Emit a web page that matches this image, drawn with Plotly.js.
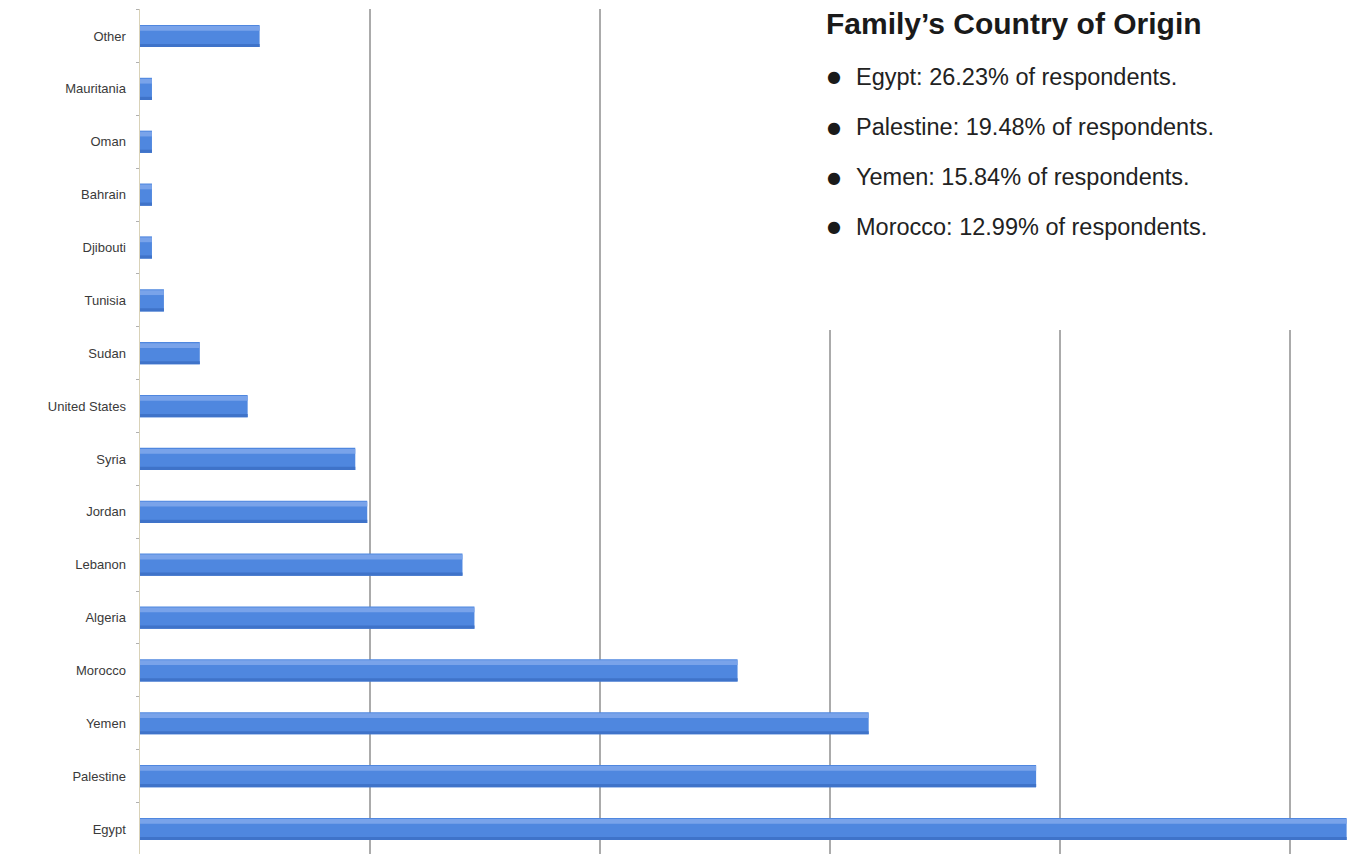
<!DOCTYPE html>
<html>
<head>
<meta charset="utf-8">
<script src="https://cdn.plot.ly/plotly-3.0.1.min.js"></script>
<style>html,body{margin:0;padding:0;background:#fff;}#chart{width:1354px;height:854px;}</style>
</head>
<body>
<div id="chart"></div>
<script>
// Categories listed bottom to top
const countries = ["Egypt","Palestine","Yemen","Morocco","Algeria","Lebanon","Jordan","Syria","United States","Sudan","Tunisia","Djibouti","Bahrain","Oman","Mauritania","Other"];
const percents = [26.23,19.48,15.84,12.99,7.27,7.01,4.94,4.68,2.34,1.30,0.52,0.26,0.26,0.26,0.26,2.60];

const boxTitle = "Family\u2019s Country of Origin";
const bulletLines = [
  "Egypt: 26.23% of respondents.",
  "Palestine: 19.48% of respondents.",
  "Yemen: 15.84% of respondents.",
  "Morocco: 12.99% of respondents."
];

const traces = [
  {type:"bar", orientation:"h", y:countries, x:percents, width:0.42,
   marker:{color:"#4f87df", line:{width:0}}, hoverinfo:"x+y"},
  {type:"bar", orientation:"h", y:countries, x:percents, width:0.09, offset:0.1,
   marker:{color:"#79a3ea", line:{width:0}}, hoverinfo:"skip"},
  {type:"bar", orientation:"h", y:countries, x:percents, width:0.06, offset:-0.21,
   marker:{color:"#3f73c9", line:{width:0}}, hoverinfo:"skip"}
];

const annotations = [
  {xref:"paper", yref:"paper", x:(824-140)/1214, y:(854-24)/845, xanchor:"left", yanchor:"middle",
   text:"<b>"+boxTitle+"</b>", showarrow:false,
   font:{family:"Liberation Sans, Arial, sans-serif", size:30, color:"#1a1a1a"}}
];
bulletLines.forEach((t,i)=>{
  const py = 77 + i*50;
  annotations.push({xref:"paper", yref:"paper", x:(825-140)/1214, y:(854-py)/845, xanchor:"left", yanchor:"middle",
    text:"\u25CF", showarrow:false, font:{family:"DejaVu Sans, sans-serif", size:16, color:"#1a1a1a"}});
  annotations.push({xref:"paper", yref:"paper", x:(854-140)/1214, y:(854-py)/845, xanchor:"left", yanchor:"middle",
    text:t, showarrow:false, font:{family:"Liberation Sans, Arial, sans-serif", size:23.5, color:"#222"}});
});

const layout = {
  width:1354, height:854,
  margin:{l:140, r:0, t:9, b:0},
  paper_bgcolor:"#fff", plot_bgcolor:"#fff",
  showlegend:false, barmode:"overlay",
  xaxis:{range:[0,26.39], dtick:5, tick0:0, showgrid:true, gridcolor:"#ababab", gridwidth:1.5,
         showticklabels:false, zeroline:false, showline:false, ticks:""},
  yaxis:{type:"category", categoryorder:"array", categoryarray:countries, range:[-0.473,15.511],
         showline:true, linecolor:"#d9d2b8", linewidth:1.5, ticks:"outside", tickson:"boundaries",
         ticklen:3, tickcolor:"#b0b0b0", ticklabelstandoff:10, showgrid:false,
         tickfont:{family:"Liberation Sans, Arial, sans-serif", size:13, color:"#3a3a3a"}},
  shapes:[
    {type:"rect", xref:"paper", yref:"paper", x0:(812-140)/1214, x1:1.01, y0:(854-330)/845, y1:1.02,
     fillcolor:"#fff", line:{width:0}, layer:"above"}
  ],
  annotations:annotations
};

Plotly.newPlot("chart", traces, layout, {displayModeBar:false, staticPlot:true});
</script>
</body>
</html>
